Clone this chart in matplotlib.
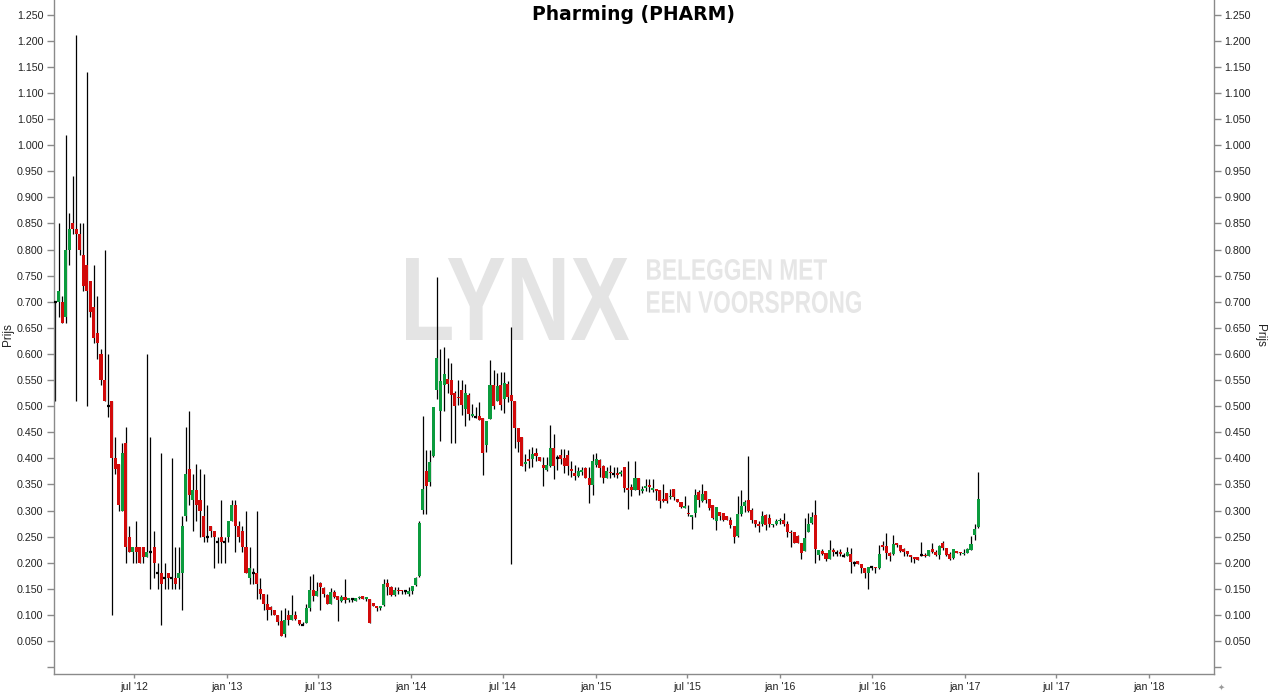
# weekly candlestick chart of Pharming (PHARM), in the LYNX house style
import datetime as dt
import numpy as np
import pandas as pd
import matplotlib
matplotlib.use("Agg")
import matplotlib.pyplot as plt
import matplotlib.dates as mdates
import matplotlib.transforms as mtransforms
from matplotlib.textpath import TextPath
from matplotlib.patches import PathPatch
from matplotlib.font_manager import FontProperties

plt.rcParams['font.family'] = ['Liberation Sans', 'DejaVu Sans']

# weekly candles, first week ending 27 jan 2012
first_week = '2012-01-27'

opens = [
    .700, .700, .700, .670, .800, .850, .840, .830, .790, .770, .740, .690, .640, .600, .550, .500, .510, .400, .390, .300,
    .430, .250, .220, .230, .230, .230, .210, .220, .230, .180, .180, .170, .180, .170, .170, .170, .180, .290, .380, .320,
    .340, .320, .290, .250, .270, .260, .240, .250, .240, .250, .280, .310, .270, .260, .230, .170, .180, .180, .150, .140,
    .120, .115, .110, .100, .089, .063, .100, .091, .100, .091, .081, .084, .114, .148, .137,
    .161, .152, .139, .121, .143, .136, .127, .135, .128, .130, .127, .132, .136, .131, .131, .123, .117, .114, .119, .162,
    .153, .138, .148, .148, .145, .141, .146, .157, .174, .301, .376, .354, .405, .531, .491, .541, .551, .550, .525, .517,
    .531, .495, .521, .481, .480, .482, .478, .426, .475, .540, .510, .540, .513, .542, .521, .510, .459, .440, .390, .399,
    .399, .411, .403, .388, .377, .386, .419, .400, .407, .401, .406, .379, .371, .367, .373, .381, .363, .348, .387, .397,
    .386, .363, .374, .370, .371, .370, .383,
    .344, .345, .340, .363, .338, .344, .349, .340, .339, .339, .322, .333, .325, .341, .323, .316, .305, .296, .288, .295,
    .335, .319, .338, .322, .310, .279, .298, .296, .290,
    .282, .270, .251, .293, .308, .320, .301, .282, .274, .274, .291, .285, .272, .275, .279, .281, .274, .259, .259, .251,
    .238, .223, .259, .277, .291, .215, .222, .218, .208, .224, .218, .220, .213, .213, .217, .200, .203, .198, .190, .181,
    .191, .192, .190, .234, .232, .219, .217, .237, .234, .226, .222, .215, .211, .210, .215, .215, .213, .226, .221, .215,
    .237, .228, .217, .209, .222, .221, .216, .219, .224, .253, .268,
]
highs = [
    .700, .850, .710, 1.020, .870, .940, 1.210, .850, .850, 1.140, .740, .770, .710, .610, .800, .600, .510, .440, .390, .430,
    .460, .270, .230, .280, .230, .230, .600, .440, .260, .200, .410, .200, .180, .400, .230, .230, .290, .460, .490, .370,
    .390, .380, .370, .310, .270, .260, .250, .320, .250, .280, .320, .320, .280, .270, .300, .230, .190, .300, .170, .140,
    .140, .117, .110, .100, .110, .113, .110, .138, .108, .091, .087, .120, .175, .178, .163,
    .163, .154, .140, .152, .147, .136, .138, .169, .133, .133, .132, .136, .136, .135, .131, .123, .117, .118, .169, .169,
    .156, .154, .154, .148, .148, .154, .156, .173, .280, .481, .415, .415, .498, .747, .609, .613, .592, .583, .528, .550,
    .550, .542, .525, .505, .499, .508, .478, .472, .588, .570, .563, .565, .565, .549, .651, .510, .459, .440, .408, .417,
    .422, .420, .403, .403, .403, .463, .447, .406, .417, .417, .416, .394, .387, .384, .383, .384, .384, .408, .411, .399,
    .388, .383, .387, .384, .384, .378, .383,
    .395, .350, .395, .363, .346, .360, .360, .360, .339, .339, .350, .333, .341, .341, .323, .316, .328, .310, .291, .341,
    .339, .350, .338, .322, .310, .306, .298, .296, .290,
    .288, .270, .328, .339, .320, .404, .304, .282, .279, .299, .293, .293, .275, .283, .285, .295, .279, .262, .259, .254,
    .238, .285, .296, .298, .321, .224, .227, .218, .243, .228, .224, .227, .218, .230, .228, .204, .203, .198, .190, .191,
    .194, .192, .234, .242, .256, .221, .253, .238, .234, .229, .222, .215, .211, .210, .240, .218, .224, .237, .224, .234,
    .241, .228, .221, .226, .222, .221, .227, .229, .251, .274, .373,
]
lows = [
    .510, .670, .660, .660, .770, .830, .510, .790, .720, .500, .670, .620, .590, .540, .510, .480, .100, .370, .300, .300,
    .200, .220, .200, .200, .200, .200, .210, .150, .170, .150, .080, .150, .150, .150, .150, .150, .110, .280, .310, .260,
    .280, .250, .240, .240, .250, .190, .200, .200, .200, .240, .280, .220, .240, .220, .180, .160, .160, .130, .130, .110,
    .090, .100, .100, .080, .060, .058, .080, .090, .090, .080, .080, .084, .108, .127, .137,
    .110, .135, .120, .121, .133, .089, .125, .123, .125, .125, .127, .130, .131, .127, .085, .118, .108, .110, .117, .138,
    .137, .137, .141, .141, .141, .137, .141, .156, .172, .293, .293, .346, .403, .514, .434, .491, .525, .430, .429, .502,
    .483, .462, .474, .479, .477, .473, .368, .413, .475, .495, .510, .492, .487, .508, .197, .420, .413, .386, .376, .381,
    .384, .394, .395, .346, .376, .384, .360, .378, .390, .371, .368, .365, .358, .365, .368, .362, .315, .330, .384, .365,
    .353, .362, .362, .364, .362, .366, .335,
    .303, .327, .339, .330, .333, .338, .336, .336, .320, .304, .317, .314, .323, .320, .317, .304, .304, .290, .264, .288,
    .307, .317, .314, .301, .283, .263, .282, .279, .282,
    .266, .238, .250, .289, .298, .298, .277, .269, .259, .270, .263, .268, .268, .272, .275, .270, .250, .231, .237, .237,
    .208, .223, .259, .274, .200, .206, .215, .204, .207, .212, .212, .213, .210, .212, .181, .194, .198, .181, .170, .149,
    .186, .181, .187, .224, .208, .204, .215, .231, .221, .212, .212, .202, .200, .206, .213, .210, .212, .218, .213, .207,
    .224, .212, .205, .208, .218, .215, .215, .218, .224, .243, .266,
]
closes = [
    .700, .720, .660, .800, .840, .840, .830, .800, .730, .720, .680, .630, .620, .550, .510, .500, .400, .380, .310, .410,
    .230, .220, .230, .220, .200, .210, .220, .220, .200, .180, .160, .170, .170, .170, .160, .180, .270, .370, .330, .340,
    .310, .300, .250, .250, .260, .250, .240, .240, .240, .280, .310, .270, .250, .230, .180, .190, .180, .160, .140, .120,
    .110, .110, .100, .087, .060, .091, .090, .100, .093, .082, .081, .113, .148, .137, .146,
    .154, .141, .121, .143, .135, .128, .135, .128, .133, .130, .132, .135, .131, .135, .085, .118, .114, .118, .159, .153,
    .138, .148, .145, .145, .145, .145, .156, .170, .277, .341, .346, .392, .498, .592, .548, .561, .542, .521, .501, .515,
    .502, .525, .485, .484, .480, .473, .411, .472, .540, .500, .538, .502, .544, .518, .510, .459, .432, .386, .392, .394,
    .408, .404, .395, .382, .388, .419, .386, .400, .399, .385, .385, .376, .367, .376, .377, .363, .348, .395, .398, .381,
    .363, .376, .371, .370, .368, .373, .344,
    .340, .340, .363, .340, .342, .347, .345, .344, .338, .319, .319, .319, .328, .325, .317, .306, .309, .293, .291, .330,
    .320, .331, .321, .304, .285, .306, .290, .282, .282,
    .272, .250, .293, .309, .317, .300, .282, .274, .271, .289, .272, .274, .275, .279, .282, .274, .259, .256, .238, .238,
    .219, .248, .274, .288, .226, .224, .217, .208, .224, .220, .218, .217, .213, .220, .202, .200, .198, .189, .181, .191,
    .191, .189, .217, .230, .219, .213, .236, .234, .223, .221, .217, .210, .207, .206, .215, .212, .224, .221, .215, .232,
    .229, .214, .208, .226, .219, .218, .219, .226, .236, .264, .323,
]

# axis ticks
price_ticks = [0.05 * i for i in range(26)]
date_ticks = ['2012-07-01', '2013-01-01', '2013-07-01', '2014-01-01', '2014-07-01', '2015-01-01',
              '2015-07-01', '2016-01-01', '2016-07-01', '2017-01-01', '2017-07-01', '2018-01-01']
date_labels = ["jul '12", "jan '13", "jul '13", "jan '14", "jul '14", "jan '15",
               "jul '15", "jan '16", "jul '16", "jan '17", "jul '17", "jan '18"]

GREEN = '#0b9b3d'
RED = '#d20a0a'
AXIS_GREY = '#8a8a8a'
TEXT = '#222222'
MARK = '#e4e4e4'

o = np.array(opens)
h = np.array(highs)
l = np.array(lows)
c = np.array(closes)
weeks = pd.date_range(first_week, periods=len(o), freq='7D')
x = mdates.date2num(weeks.to_pydatetime())

fig = plt.figure(figsize=(12.68, 6.92), dpi=100)
fig.patch.set_facecolor('white')
ax = fig.add_axes([54 / 1268, 18 / 692, 1160 / 1268, 674 / 692])
ax.patch.set_visible(False)


def stamp(text, x0, y0, x1, y1, color):
    # watermark text squeezed into a pixel box (image coords, y down)
    fp = FontProperties(family='Liberation Sans', weight='bold')
    tp = TextPath((0, 0), text, size=100, prop=fp)
    ext = tp.get_extents()
    H = 692
    tr = (mtransforms.Affine2D()
          .translate(-ext.x0, -ext.y0)
          .scale((x1 - x0) / ext.width, (y1 - y0) / ext.height)
          .translate(x0, H - y1))
    patch = PathPatch(tr.transform_path(tp), facecolor=color, edgecolor='none',
                      transform=mtransforms.IdentityTransform(), zorder=-5)
    fig.add_artist(patch)


stamp('LYNX', 406, 258, 629, 340, MARK)
stamp('BELEGGEN MET', 647, 259, 827, 280, '#e6e6e6')
stamp('EEN VOORSPRONG', 647, 291, 861, 313, '#e6e6e6')

# wicks
ax.vlines(x, l, h, color='black', linewidth=0.9, zorder=2)

# bodies
up = c > o
down = c < o
flat = c == o
body_w = 6.0
ax.bar(x[up], np.maximum(c[up] - o[up], 0.003), bottom=o[up], width=body_w,
       color=GREEN, linewidth=0, zorder=3)
ax.bar(x[down], np.maximum(o[down] - c[down], 0.003), bottom=c[down], width=body_w,
       color=RED, linewidth=0, zorder=3)
ax.hlines(c[flat], x[flat] - body_w / 2, x[flat] + body_w / 2, color='black',
          linewidth=1.6, zorder=3)

# axes limits
ax.set_xlim(mdates.date2num(dt.datetime(2012, 1, 25)), mdates.date2num(dt.datetime(2018, 5, 9)))
ax.set_ylim(-0.0132, 1.278)

ax.set_yticks(price_ticks)
ax.set_yticklabels(['' if i == 0 else f'{v:.3f}' for i, v in enumerate(price_ticks)])
ax.set_xticks([mdates.date2num(pd.Timestamp(d).to_pydatetime()) for d in date_ticks])
ax.set_xticklabels(date_labels)

ax.tick_params(axis='y', which='both', left=True, right=True, labelleft=True, labelright=True,
               direction='out', length=5, width=1, color=AXIS_GREY, labelsize=7.7,
               labelcolor=TEXT, pad=2.5)
ax.tick_params(axis='x', direction='out', length=3, width=1, color=AXIS_GREY,
               labelsize=7.7, labelcolor=TEXT, pad=3)

for side in ['left', 'right', 'bottom']:
    ax.spines[side].set_color(AXIS_GREY)
    ax.spines[side].set_linewidth(1.0)
ax.spines['top'].set_visible(False)

# title and axis names
fig.text(633 / 1268, 1 - 14 / 692, 'Pharming (PHARM)', ha='center', va='center',
         fontsize=13.5, fontweight='bold', family='DejaVu Sans', color='black')
fig.text(8 / 1268, 1 - 335 / 692, 'Prijs', rotation=90, ha='center', va='center',
         fontsize=8.5, color=TEXT)
fig.text(1260 / 1268, 1 - 335 / 692, 'Prijs', rotation=270, ha='center', va='center',
         fontsize=8.5, color=TEXT)
fig.text(1221 / 1268, 1 - 687 / 692, '\u2726', ha='center', va='center',
         fontsize=6, color='#9a9a9a', family='DejaVu Sans')

fig.savefig('out.png', dpi=100, facecolor='white')
